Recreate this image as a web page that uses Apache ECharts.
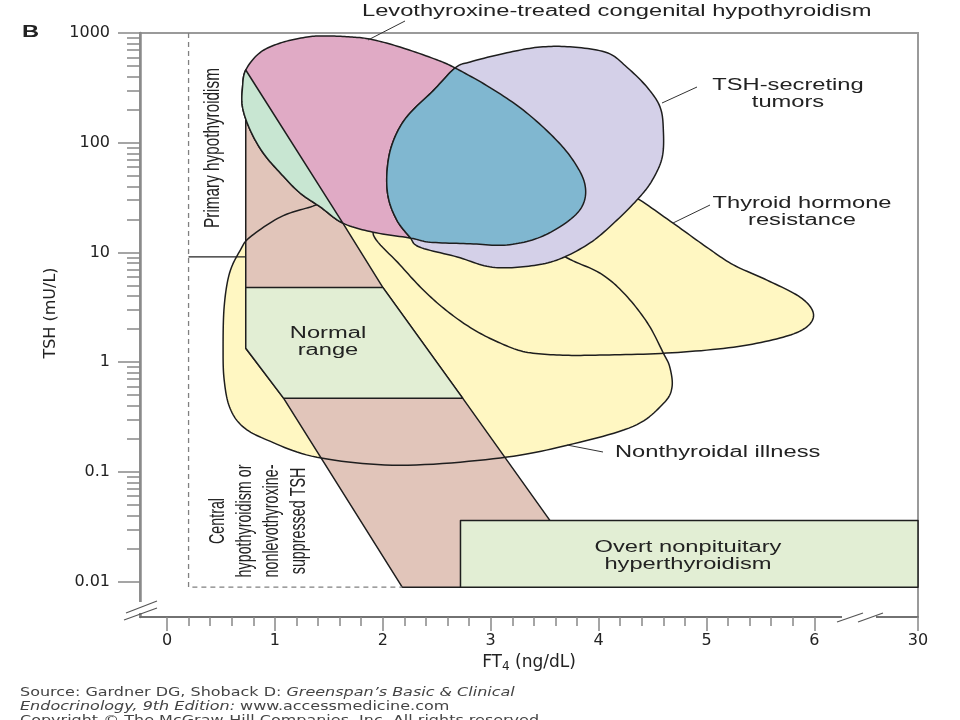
<!DOCTYPE html>
<html><head><meta charset="utf-8">
<script src="https://cdn.jsdelivr.net/npm/echarts@6/dist/echarts.min.js"></script>
<style>html,body{margin:0;padding:0;background:#fff}#c{width:960px;height:720px}</style>
</head><body><div id="c"></div>
<script>
// ---------------- data (FT4 ng/dL, TSH mU/L) ----------------
const xTickValues = [0, 1, 2, 3, 4, 5, 6, 30];
const yTickValues = [0.01, 0.1, 1, 10, 100, 1000];

const brownBand = [[0.73,460],[1.63,18.5],[2.00,4.8],[2.74,0.47],[3.55,0.036],[3.99,0.0089],[2.18,0.0089],[1.08,0.47],[0.73,1.34]];
const normalRange = [[0.73,4.8],[2.00,4.8],[2.74,0.47],[1.08,0.47],[0.73,1.34]];
const overtBox = [[2.72,0.036],[30,0.036],[30,0.0089],[2.72,0.0089]];

const pinkTop = [[0.73,460],[0.86,660],[1.05,810],[1.30,920],[1.48,940],[1.70,920],[1.88,880],[2.16,745],[2.50,570]];
const pinkRight = [[2.67,480],[2.99,320],[3.30,199],[3.58,113],[3.76,70],[3.87,43],[3.86,28],[3.73,19.7],[3.46,13.8],[3.15,11.7],[2.81,12],[2.44,12.4],[2.26,13.5]];
const pinkBottom = [[1.91,15.3]];
const pinkLowerLeft = [[1.63,18.5],[1.42,26],[1.23,35],[1.05,53],[0.89,81],[0.77,131],[0.70,211],[0.70,320]];

const lavOuter = [[2.67,480],[2.81,545],[3.15,660],[3.46,745],[3.76,745],[4.08,660],[4.26,490],[4.45,320],[4.57,211],[4.60,131],[4.59,74],[4.50,46],[4.38,32],[4.17,19.7],[3.92,12.2],[3.61,8.5],[3.30,7.4],[2.99,7.4],[2.69,9.1],[2.34,11.2]];
const lavLeft = [[2.25,13.8],[2.13,19.7],[2.05,32],[2.04,56],[2.09,99],[2.22,171],[2.47,300]];

const ntiOutline = [[1.33,26],[1.60,31],[2.16,27],[2.90,19.7],[3.36,14.4],[3.71,8.9],[4.01,6.5],[4.23,4.3],[4.45,2.3],[4.60,1.21],[4.66,0.90],[4.68,0.59],[4.60,0.42],[4.32,0.26],[3.71,0.175],[3.09,0.134],[2.16,0.115],[1.39,0.136],[0.93,0.195],[0.70,0.26],[0.58,0.39],[0.53,0.69],[0.52,1.3],[0.53,3.2],[0.58,6.5],[0.68,10.5],[0.77,13.8],[1.05,21]];
const thrOutline = [[1.91,15.0],[2.16,7.7],[2.39,4.4],[2.62,2.8],[2.85,1.96],[3.09,1.49],[3.32,1.24],[3.64,1.16],[4.01,1.16],[4.63,1.21],[5.25,1.37],[5.71,1.69],[5.93,2.1],[5.99,2.8],[5.87,3.9],[5.56,5.6],[5.25,7.7],[5.00,11.2],[4.69,18.5],[4.36,31],[4.11,41],[3.46,16.7],[2.81,17.8],[2.16,18.9]];

const dashedBoundary = [[0.20,1000],[0.20,0.0089],[2.18,0.0089]];
const hypoLine = [[0.20,9.1],[0.73,9.1]];

// ---------------- axis break (6 -> 30) ----------------
const BREAK_AT = 6, BREAK_END = 30, BREAK_SPAN = 0.96;
function mapX(v) { return v <= BREAK_AT ? v : BREAK_AT + (v - BREAK_AT) / (BREAK_END - BREAK_AT) * BREAK_SPAN; }

// ---------------- drawing helpers ----------------
function crSeg(p0, p1, p2, p3, n, out) {
  for (let k = 0; k < n; k++) {
    const t = k / n, t2 = t * t, t3 = t2 * t;
    const f = i => 0.5 * (2 * p1[i] + (-p0[i] + p2[i]) * t + (2 * p0[i] - 5 * p1[i] + 4 * p2[i] - p3[i]) * t2 + (-p0[i] + 3 * p1[i] - 3 * p2[i] + p3[i]) * t3);
    out.push([f(0), f(1)]);
  }
}
function toPx(api, p) { return api.coord([mapX(p[0]), p[1]]); }
function runPixels(api, run) {
  const P = run.pts.map(p => toPx(api, p));
  if (!run.smooth) return P;
  const n = P.length, out = [];
  if (run.closed) {
    for (let i = 0; i < n; i++) crSeg(P[(i - 1 + n) % n], P[i], P[(i + 1) % n], P[(i + 2) % n], 12, out);
    return out;
  }
  const prev = run.prev ? toPx(api, run.prev) : P[0];
  const next = run.next ? toPx(api, run.next) : P[n - 1];
  for (let i = 0; i < n - 1; i++) crSeg(i === 0 ? prev : P[i - 1], P[i], P[i + 1], i + 2 < n ? P[i + 2] : next, 12, out);
  out.push(P[n - 1]);
  return out;
}
function shapeSeries(name, runs, fill, stroke, z) {
  const pts = [].concat(...runs.map(r => r.pts)).map(p => [mapX(p[0]), p[1]]);
  return {
    type: 'custom', name, z, silent: true, animation: false, data: pts,
    renderItem(params, api) {
      if (params.dataIndex !== 0) return null;
      let all = [];
      runs.forEach(r => { all = all.concat(runPixels(api, r)); });
      return { type: 'polygon', shape: { points: all },
        style: { fill: fill || 'none', stroke: stroke || null, lineWidth: 1.5, lineJoin: 'round' } };
    }
  };
}

const C = { pink: '#e0aac5', lav: '#d4d0e8', blue: '#80b7d0', yellow: '#fff7c2', brown: '#e1c5ba',
            green: '#e2eed4', mint: '#c8e6d2', line: '#1e1e1e' };

const pinkRuns = [{ pts: pinkTop.concat(pinkRight, pinkBottom, pinkLowerLeft), smooth: true, closed: true }];
const lavRuns = [{ pts: lavOuter.concat(lavLeft), smooth: true, closed: true }];
const blueRuns = [
  { pts: pinkRight, smooth: true, prev: pinkTop[pinkTop.length - 1], next: pinkBottom[0] },
  { pts: lavLeft.concat([pinkRight[0]]), smooth: true, prev: lavOuter[lavOuter.length - 1], next: lavOuter[1] }
];
const mintRuns = [{ pts: pinkLowerLeft.concat([pinkTop[0]]), smooth: true, prev: pinkBottom[0], next: pinkTop[1] }];
const ntiRuns = [{ pts: ntiOutline, smooth: true, closed: true }];
const thrRuns = [{ pts: thrOutline, smooth: true, closed: true }];

// ---------------- ticks ----------------
const xMinor = [];
for (let i = 1; i < 30; i++) if (i % 5) xMinor.push(i / 5);
const yMinor = [];
for (let d = -2; d < 3; d++) for (let k = 2; k <= 9; k++) yMinor.push(+(k * Math.pow(10, d)).toPrecision(3));

const X_MIN = -0.25, X_MAX = mapX(30), Y_MIN = 0.00476, Y_MAX = 1000;
const AXFONT = 'DejaVu Sans';
const TFONT = 'Liberation Sans, Arial, sans-serif';
const SX = 1.48;

function T(text, x, y, align, extra) {
  return { type: 'text', x, y, z: 100, scaleX: SX, silent: true,
    style: Object.assign({ text, fontFamily: TFONT, fontSize: 16, fill: '#222', align: align || 'center', verticalAlign: 'middle', lineHeight: 17 }, extra || {}) };
}
function L(x1, y1, x2, y2, color, w) {
  return { type: 'line', z: 100, silent: true, shape: { x1, y1, x2, y2 }, style: { stroke: color || '#333', lineWidth: w || 1 } };
}

const chart = echarts.init(document.getElementById('c'));
chart.setOption({
  animation: false,
  backgroundColor: '#fff',
  grid: { left: 140, right: 42, top: 33, bottom: 103, show: true, borderColor: '#9a9a9a', borderWidth: 2 },
  xAxis: [{
    type: 'value', min: X_MIN, max: X_MAX, position: 'bottom',
    axisLine: { show: true, onZero: false, lineStyle: { color: '#666', width: 1.5 } },
    axisTick: { show: true, customValues: xTickValues.map(mapX), length: 14, lineStyle: { color: '#888', width: 1.5 } },
    axisLabel: { customValues: xTickValues.map(mapX), margin: 16, fontFamily: AXFONT, fontSize: 16, color: '#222',
      formatter: v => { const t = xTickValues.find(t => Math.abs(mapX(t) - v) < 1e-6); return t === undefined ? '' : String(t); } },
    splitLine: { show: false },
    name: '{a|FT}{s|4}{a| (ng/dL)}', nameLocation: 'middle', nameGap: 36,
    nameTextStyle: { rich: { a: { fontFamily: AXFONT, fontSize: 17, color: '#222' }, s: { fontFamily: AXFONT, fontSize: 12, color: '#222', padding: [8, 0, 0, 0] } } }
  }, {
    type: 'value', min: X_MIN, max: X_MAX, position: 'bottom', offset: 0,
    axisLine: { show: false, onZero: false }, axisLabel: { show: false }, splitLine: { show: false },
    axisTick: { show: true, customValues: xMinor, length: 9, lineStyle: { color: '#888', width: 1.5 } }
  }],
  yAxis: [{
    type: 'log', logBase: 10, min: Y_MIN, max: Y_MAX, position: 'left',
    axisLine: { show: true, onZero: false, lineStyle: { color: '#8a8a8a', width: 2.5 } },
    axisTick: { show: true, customValues: yTickValues, length: 22, lineStyle: { color: '#888', width: 1.5 } },
    axisLabel: { customValues: yTickValues, margin: 30, fontFamily: AXFONT, fontSize: 16, color: '#222',
      formatter: v => { const t = yTickValues.find(t => Math.abs(Math.log10(t) - Math.log10(v)) < 1e-6); return t === undefined ? '' : String(t); } },
    splitLine: { show: false },
    name: 'TSH (mU/L)', nameLocation: 'middle', nameGap: 78, nameRotate: 90,
    nameTextStyle: { fontFamily: AXFONT, fontSize: 16, color: '#222', padding: [0, 0, 0, 24] }
  }, {
    type: 'log', logBase: 10, min: Y_MIN, max: Y_MAX, position: 'left', offset: 0,
    axisLine: { show: false, onZero: false }, axisLabel: { show: false }, splitLine: { show: false },
    axisTick: { show: true, customValues: yMinor, length: 13, lineStyle: { color: '#888', width: 1.5 } }
  }],
  series: [
    shapeSeries('Nonthyroidal illness fill', ntiRuns, C.yellow, null, 2),
    shapeSeries('Thyroid hormone resistance fill', thrRuns, C.yellow, null, 3),
    shapeSeries('TSH band', [{ pts: brownBand }], C.brown, C.line, 4),
    shapeSeries('Normal range', [{ pts: normalRange }], C.green, C.line, 5),
    shapeSeries('Nonthyroidal illness', ntiRuns, null, C.line, 6),
    shapeSeries('Thyroid hormone resistance', thrRuns, null, C.line, 6),
    shapeSeries('Levothyroxine-treated', pinkRuns, C.pink, C.line, 7),
    shapeSeries('TSH-secreting tumors', lavRuns, C.lav, C.line, 8),
    shapeSeries('Overlap', blueRuns, C.blue, C.line, 9),
    shapeSeries('Overlap band', mintRuns, C.mint, C.line, 10),
    shapeSeries('Overt nonpituitary hyperthyroidism', [{ pts: overtBox }], C.green, C.line, 11),
    { type: 'line', name: 'boundary', z: 12, silent: true, showSymbol: false, animation: false,
      data: dashedBoundary.map(p => [mapX(p[0]), p[1]]), lineStyle: { color: '#808080', width: 1.3, type: [5, 4] } },
    { type: 'line', name: 'hypo', z: 12, silent: true, showSymbol: false, animation: false,
      data: hypoLine.map(p => [mapX(p[0]), p[1]]), lineStyle: { color: '#222', width: 1.2 } }
  ],
  graphic: [
    T('B', 22, 33, 'left', { fontWeight: 'bold' }),
    T('Levothyroxine-treated congenital hypothyroidism', 362, 12, 'left'),
    T('TSH-secreting\ntumors', 788, 94),
    T('Thyroid hormone\nresistance', 802, 212),
    T('Normal\nrange', 328, 342),
    T('Nonthyroidal illness', 615, 453, 'left'),
    T('Overt nonpituitary\nhyperthyroidism', 688, 556),
    { type: 'text', x: 213, y: 148, rotation: Math.PI / 2, scaleY: SX, z: 100, silent: true,
      style: { text: 'Primary hypothyroidism', fontFamily: TFONT, fontSize: 15.3, fill: '#222', align: 'center', verticalAlign: 'middle' } },
    { type: 'text', x: 259, y: 521, rotation: Math.PI / 2, scaleY: SX, z: 100, silent: true,
      style: { text: 'Central\nhypothyroidism or\nnonlevothyroxine-\nsuppressed TSH', fontFamily: TFONT, fontSize: 14.3, lineHeight: 18.2, fill: '#222', align: 'center', verticalAlign: 'middle' } },
    L(368, 40, 405, 21), L(662, 103, 697, 87), L(673, 223, 710, 205), L(567, 445, 603, 452),
    { type: 'rect', z: 99, silent: true, shape: { x: 136, y: 602, width: 9, height: 11 }, style: { fill: '#fff' } },
    L(124, 620, 157, 608, '#555', 1.2), L(126, 613, 157, 601, '#555', 1.2),
    { type: 'rect', z: 99, silent: true, shape: { x: 842, y: 614, width: 34, height: 6 }, style: { fill: '#fff' } },
    L(837, 622, 863, 613, '#555', 1.2), L(858, 622, 883, 613, '#555', 1.2),
    { type: 'text', x: 20, y: 693, scaleX: 1.23, z: 100, silent: true,
      style: { text: 'Source: Gardner DG, Shoback D: {i|Greenspan\u2019s Basic & Clinical}', fontFamily: AXFONT, fontSize: 13, fill: '#444', verticalAlign: 'middle',
        rich: { i: { fontFamily: AXFONT, fontStyle: 'italic', fontSize: 13, fill: '#444' } } } },
    { type: 'text', x: 20, y: 707, scaleX: 1.23, z: 100, silent: true,
      style: { text: '{i|Endocrinology, 9th Edition:} www.accessmedicine.com', fontFamily: AXFONT, fontSize: 13, fill: '#444', verticalAlign: 'middle',
        rich: { i: { fontFamily: AXFONT, fontStyle: 'italic', fontSize: 13, fill: '#444' } } } },
    { type: 'text', x: 20, y: 721, scaleX: 1.23, z: 100, silent: true,
      style: { text: 'Copyright \u00a9 The McGraw-Hill Companies, Inc. All rights reserved.', fontFamily: AXFONT, fontSize: 13, fill: '#444', verticalAlign: 'middle' } }
  ]
});
</script>
</body></html>
